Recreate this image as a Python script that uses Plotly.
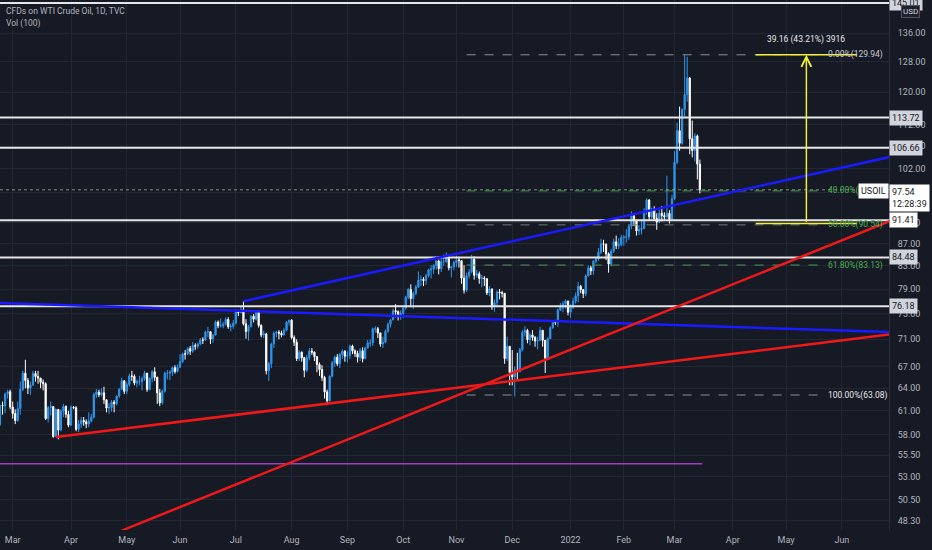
import numpy as np
import pandas as pd
import plotly.graph_objects as go

# daily candles, TVC:USOIL, 22 Feb 2021 .. 15 Mar 2022 (weekdays)
first_open = 59.24
close = [
    61.70, 61.67, 63.22, 63.53, 61.50,  # Feb 21
    60.64, 59.75, 61.28, 63.83, 66.09, 65.05, 64.01, 64.44, 66.02, 65.61, 65.39, 64.80,
    64.60, 60.00, 61.42, 61.55, 57.76, 61.18, 58.56, 60.97, 61.56, 60.55, 59.16,  # Mar
    61.45, 61.40, 58.65, 59.33, 59.77, 59.60, 59.32, 59.70, 60.18, 63.15, 63.46, 63.13,
    63.38, 62.44, 61.35, 61.43, 62.14, 61.91, 62.94, 63.86, 65.01, 63.58,  # Apr
    64.49, 65.69, 65.63, 64.71, 64.90, 64.92, 65.28, 66.08, 63.82, 65.37, 66.27, 65.49,
    63.36, 62.05, 63.58, 66.05, 66.07, 66.21, 66.85, 66.32, 66.90,  # May
    67.72, 68.83, 68.81, 69.62, 69.23, 70.05, 69.96, 70.29, 70.91, 70.88, 72.12, 72.15,
    71.04, 71.64, 73.66, 73.06, 73.08, 73.30, 74.05, 72.91, 72.98, 73.47,  # Jun
    75.23, 75.16, 75.60, 73.37, 72.20, 72.94, 74.56, 74.10, 75.25, 73.13, 71.65, 71.81,
    66.42, 67.42, 70.30, 71.91, 72.07, 71.91, 71.65, 72.39, 73.62, 73.95,  # Jul
    71.26, 70.56, 68.15, 69.09, 68.28, 66.48, 68.29, 69.25, 69.09, 68.44, 67.29, 66.59,
    65.46, 63.50, 62.32, 65.64, 67.54, 68.36, 67.42, 68.74, 69.21, 68.50,  # Aug
    68.59, 69.99, 69.29, 68.90, 68.35, 69.30, 68.14, 69.72, 70.45, 70.46, 72.61, 72.61,
    71.97, 70.29, 70.56, 72.23, 73.30, 73.98, 75.45, 75.29, 74.83, 75.03,  # Sep
    75.88, 77.62, 78.93, 77.43, 78.30, 79.35, 80.52, 80.64, 80.44, 81.31, 82.28, 82.44,
    83.05, 83.87, 82.50, 83.76, 83.76, 84.65, 82.66, 82.81, 83.57,  # Oct
    84.05, 83.91, 80.86, 78.81, 81.27, 81.93, 84.15, 81.34, 81.59, 80.79, 80.88, 80.76,
    78.36, 79.01, 76.10, 76.75, 78.50, 78.39, 78.30, 68.15, 69.95, 66.18,  # Nov
    65.57, 66.50, 66.26, 69.49, 72.05, 72.36, 70.94, 71.67, 71.29, 70.73, 70.87, 72.38,
    70.86, 68.23, 71.12, 72.76, 73.79, 73.60, 75.57, 75.98, 76.56, 76.99, 75.21,  # Dec
    76.08, 76.99, 77.85, 79.46, 78.90, 78.23, 81.22, 82.64, 82.12, 83.82, 84.20, 85.43,
    86.96, 86.90, 85.14, 83.31, 85.60, 87.35, 86.61, 86.82, 88.15,  # Jan 22
    88.20, 88.26, 90.27, 92.31, 91.32, 89.36, 89.66, 89.88, 93.10, 95.46, 92.07, 93.66,
    91.76, 91.07, 92.80, 92.35, 92.10, 92.81, 91.59, 95.72,  # Feb
    103.41, 110.60, 107.67, 115.68, 119.40, 123.70, 108.70, 106.02, 109.33, 103.01, 97.54,  # Mar
]
high = [
    61.80, 62.20, 63.40, 63.80, 63.80,
    62.20, 61.20, 62.20, 64.90, 66.40, 67.98, 65.40, 64.90, 66.40, 66.40, 66.40, 65.40,
    65.20, 64.80, 61.60, 62.20, 61.60, 61.30, 61.20, 61.20, 61.90, 61.70, 61.00,
    61.70, 61.60, 61.60, 59.80, 60.20, 60.20, 59.90, 60.80, 60.60, 63.40, 63.90, 63.80,
    64.00, 64.20, 62.50, 62.00, 62.40, 62.40, 63.00, 64.00, 65.45, 65.10,
    64.80, 66.00, 66.40, 65.90, 65.20, 65.70, 65.60, 66.40, 66.10, 65.50, 66.50, 66.90,
    65.60, 63.90, 63.80, 66.30, 66.50, 66.50, 67.00, 67.20, 67.30,
    68.80, 69.00, 69.40, 69.80, 70.00, 70.60, 70.40, 70.50, 71.20, 71.30, 72.30, 72.90,
    72.20, 71.80, 73.90, 73.90, 74.20, 73.70, 74.40, 74.40, 73.40, 74.00,
    75.70, 75.60, 76.20, 76.98, 74.10, 73.20, 74.70, 74.90, 75.50, 75.50, 73.30, 72.30,
    72.00, 67.70, 70.50, 72.20, 72.30, 72.40, 72.30, 72.70, 73.80, 74.00,
    74.10, 71.60, 71.00, 69.40, 69.20, 68.40, 68.70, 69.70, 69.70, 69.20, 68.50, 67.60,
    67.20, 65.70, 63.80, 65.80, 67.80, 68.60, 68.80, 69.00, 69.50, 69.40,
    69.20, 70.20, 70.20, 69.50, 69.30, 69.70, 69.80, 69.90, 70.90, 71.00, 72.80, 73.00,
    72.90, 72.00, 71.40, 72.50, 73.60, 74.10, 75.80, 76.50, 75.50, 75.50,
    76.00, 77.90, 79.20, 79.80, 78.60, 79.70, 82.00, 81.30, 81.00, 81.60, 82.50, 83.10,
    83.30, 84.00, 84.10, 84.20, 85.00, 85.40, 84.80, 83.00, 83.90,
    84.80, 84.40, 84.00, 83.10, 81.80, 82.40, 84.97, 84.70, 82.30, 82.00, 81.40, 81.20,
    80.80, 79.50, 79.10, 77.30, 78.80, 79.00, 78.70, 78.30, 71.40, 70.00,
    69.40, 67.00, 69.00, 69.70, 72.40, 73.00, 72.60, 72.00, 72.40, 71.50, 71.40, 72.90,
    72.30, 70.60, 71.30, 73.00, 73.90, 74.00, 75.80, 76.70, 77.00, 77.30, 77.10,
    76.50, 77.60, 78.40, 80.20, 79.70, 79.00, 81.50, 83.10, 83.00, 84.00, 84.60, 86.20,
    87.90, 87.70, 87.00, 85.40, 86.00, 87.90, 88.50, 88.00, 88.70,
    88.60, 89.70, 90.70, 93.20, 92.70, 91.60, 90.50, 91.40, 93.80, 95.80, 95.60, 93.90,
    94.20, 92.80, 93.50, 94.20, 93.00, 100.50, 93.40, 96.50,
    105.90, 112.50, 116.40, 116.00, 129.94, 129.40, 123.90, 113.00, 110.00, 109.70, 104.00,
]
low = [
    59.10, 60.50, 60.70, 62.60, 61.20,
    60.00, 59.30, 59.60, 60.50, 63.60, 64.00, 63.20, 63.10, 64.30, 64.90, 64.60, 64.00,
    63.70, 59.80, 59.50, 60.40, 57.60, 57.70, 57.40, 58.40, 60.20, 60.10, 58.90,
    59.10, 61.20, 58.40, 58.30, 58.80, 59.10, 58.80, 58.90, 59.50, 60.00, 62.70, 62.80,
    62.90, 61.90, 60.80, 60.60, 60.90, 60.80, 61.70, 62.70, 63.80, 63.20,
    63.20, 64.20, 65.00, 64.40, 64.10, 64.40, 63.70, 65.00, 63.50, 63.70, 64.80, 65.00,
    61.90, 61.60, 61.80, 63.40, 65.20, 65.10, 65.70, 66.00, 66.20,
    66.80, 67.50, 68.00, 68.70, 68.70, 69.00, 69.40, 69.60, 70.10, 70.30, 70.80, 71.30,
    70.30, 70.50, 71.60, 72.70, 72.80, 72.70, 73.10, 72.60, 72.20, 72.60,
    73.30, 74.60, 75.00, 73.10, 71.10, 70.80, 72.80, 73.60, 73.90, 72.80, 71.30, 71.20,
    65.90, 65.00, 66.80, 69.70, 71.30, 71.00, 71.30, 71.60, 72.20, 73.10,
    71.00, 70.00, 67.80, 67.80, 67.70, 65.50, 66.20, 67.90, 68.70, 67.80, 66.20, 65.70,
    65.00, 62.60, 61.74, 62.20, 65.50, 67.00, 67.10, 66.80, 68.10, 67.70,
    67.60, 68.10, 68.80, 68.40, 67.60, 67.80, 67.60, 68.10, 69.60, 69.90, 70.00, 72.00,
    71.20, 69.90, 69.70, 70.40, 72.00, 72.80, 74.00, 74.40, 73.90, 74.00,
    74.30, 75.60, 77.30, 76.00, 75.70, 78.00, 79.20, 79.50, 79.50, 79.70, 81.00, 80.80,
    81.60, 82.30, 81.50, 81.90, 83.00, 83.50, 82.20, 81.00, 82.20,
    82.80, 82.70, 79.90, 78.25, 78.50, 80.80, 81.70, 80.60, 80.90, 79.90, 79.30, 79.50,
    78.00, 77.80, 75.60, 75.30, 76.00, 77.30, 77.60, 67.40, 67.80, 64.40,
    64.40, 62.90, 65.00, 66.60, 69.20, 71.40, 70.40, 70.10, 70.80, 69.90, 69.50, 70.70,
    69.90, 66.10, 68.20, 71.00, 72.60, 73.20, 72.90, 75.40, 75.20, 75.80, 74.70,
    74.30, 75.70, 76.60, 76.80, 78.30, 77.50, 77.80, 81.20, 81.40, 81.40, 83.40, 83.90,
    85.10, 85.50, 84.00, 81.80, 82.90, 85.30, 86.00, 86.00, 86.50,
    86.60, 87.20, 87.70, 89.70, 90.30, 88.50, 88.60, 88.70, 89.70, 92.50, 91.30, 91.60,
    91.30, 89.60, 90.90, 91.20, 91.50, 91.80, 90.80, 91.40,
    95.40, 103.00, 106.00, 107.30, 114.00, 117.60, 105.20, 104.50, 103.60, 99.70, 96.80,
]
dates = pd.bdate_range("2021-02-22", "2022-03-15")
opens = [first_open] + close[:-1]

# horizontal levels drawn on the chart
level_prices = [145.01, 113.72, 106.66, 91.41, 84.48, 76.18]
last_price = 97.54
purple_level = 54.5

# fib retracement (log)
fib_names = ["0.00%", "40.00%", "50.00%", "61.80%", "100.00%"]
fib_prices = [129.94, 97.32, 90.54, 83.13, 63.08]
fib_start, fib_end = "2021-11-05", "2022-05-20"

# price range measure
measure_dates = ["2022-04-14", "2022-05-12", "2022-06-09"]
measure_prices = [90.78, 129.94]
measure_text = "39.16 (43.21%) 3916"

# trend lines: (date0, price0, date1, price1, colour)
trend_lines = [
    ("2021-07-06", 76.98, "2022-06-28", 104.6, "#1a1aff"),
    ("2021-02-22", 76.70, "2022-06-28", 72.10, "#1a1aff"),
    ("2021-03-24", 57.70, "2022-06-28", 71.74, "#f01818"),
    ("2021-04-29", 47.30, "2022-06-28", 91.30, "#f01818"),
]

month_ticks = ["2021-03-01", "2021-04-01", "2021-05-03", "2021-06-01", "2021-07-01",
               "2021-08-02", "2021-09-01", "2021-10-01", "2021-11-01", "2021-12-01",
               "2022-01-03", "2022-02-01", "2022-03-01", "2022-04-01", "2022-05-02",
               "2022-06-01"]
month_labels = ["Mar", "Apr", "May", "Jun", "Jul", "Aug", "Sep", "Oct", "Nov", "Dec",
                "2022", "Feb", "Mar", "Apr", "May", "Jun"]
price_ticks = [48.3, 50.5, 53, 55.5, 58, 61, 64, 67, 71, 75, 79, 83, 87, 91, 97,
               102, 107, 112, 120, 128, 136]

BG = "#161a25"
GRID = "#232733"
TXT = "#b2b5be"
FONT = "Roboto"

fig = go.Figure()
fig.add_trace(go.Candlestick(
    x=dates, open=opens, high=high, low=low, close=close,
    increasing=dict(line=dict(color="#2f96ee", width=1), fillcolor="#2f96ee"),
    decreasing=dict(line=dict(color="#ffffff", width=1), fillcolor="#ffffff"),
    whiskerwidth=0, showlegend=False, hoverinfo="skip",
))

# full-width horizontal levels
for p in level_prices:
    fig.add_shape(type="line", xref="paper", x0=0, x1=1, yref="y", y0=p, y1=p,
                  line=dict(color="#e6e6e6", width=2))
fig.add_shape(type="line", xref="paper", x0=0, x1=1, yref="y", y0=last_price, y1=last_price,
              line=dict(color="rgba(170,200,170,0.7)", width=1, dash="dot"))
fig.add_shape(type="line", xref="x", x0=dates[0], x1="2022-03-16", yref="y",
              y0=purple_level, y1=purple_level, line=dict(color="#a23fc0", width=1.5))

# fib levels
fib_line_cols = ["#8a8d96", "#4e9a58", "#6f7a74", "#4e9a58", "#8a8d96"]
fib_text_cols = ["#c8cad0", "#4caf50", "#4caf50", "#4caf50", "#e8e8e8"]
for name, p, lc, tc in zip(fib_names, fib_prices, fib_line_cols, fib_text_cols):
    fig.add_shape(type="line", xref="x", x0=fib_start, x1=fib_end, yref="y", y0=p, y1=p,
                  line=dict(color=lc, width=1, dash="dash"))
    fig.add_annotation(x=fib_end, y=np.log10(p), xref="x", yref="y", xanchor="left",
                       xshift=4, showarrow=False, text=f"{name}({p:.2f})",
                       font=dict(family=FONT, size=8.5, color=tc))

# trend lines
for d0, p0, d1, p1, col in trend_lines:
    fig.add_shape(type="line", xref="x", yref="y", x0=d0, y0=p0, x1=d1, y1=p1,
                  line=dict(color=col, width=2.5))

# price range measure
for p in measure_prices:
    fig.add_shape(type="line", xref="x", yref="y", x0=measure_dates[0], x1=measure_dates[2],
                  y0=p, y1=p, line=dict(color="#f2ee3a", width=1.5))
fig.add_annotation(x=measure_dates[1], y=np.log10(measure_prices[1]), xref="x", yref="y",
                   ax=measure_dates[1], ay=np.log10(measure_prices[0]), axref="x", ayref="y",
                   showarrow=True, arrowhead=5, arrowsize=1.3, arrowwidth=1.5,
                   arrowcolor="#f2ee3a", text="")
fig.add_annotation(x=measure_dates[1], y=np.log10(measure_prices[1]), xref="x", yref="y",
                   yshift=15, showarrow=False, text=measure_text,
                   font=dict(family=FONT, size=8.5, color="#e8e8e8"))

# labels on the price scale
for p in level_prices:
    fig.add_annotation(x=1, y=np.log10(p), xref="paper", yref="y", xanchor="left",
                       yanchor="middle", showarrow=False, text=f"{p:.2f}",
                       bgcolor="#ffffff" if p == 91.41 else "#d1d4dc", borderpad=2,
                       font=dict(family=FONT, size=9, color="#131722"))
fig.add_annotation(x=1, y=np.log10(last_price), xref="paper", yref="y", xanchor="right",
                   yanchor="middle", yshift=-1, showarrow=False, text="USOIL",
                   bgcolor="#ffffff", borderpad=2,
                   font=dict(family=FONT, size=9, color="#131722"))
fig.add_annotation(x=1, y=np.log10(last_price), xref="paper", yref="y", xanchor="left",
                   yanchor="top", yshift=6, showarrow=False, align="left",
                   text=f"{last_price:.2f}<br>12:28:39", bgcolor="#ffffff", borderpad=2,
                   font=dict(family=FONT, size=9, color="#131722"))
fig.add_annotation(x=1, y=1, xref="paper", yref="paper", xanchor="center", yanchor="middle",
                   xshift=21, yshift=-11, showarrow=False, text="USD",
                   bgcolor="#1e222d", bordercolor="#50535e", borderwidth=1, borderpad=1,
                   font=dict(family=FONT, size=8, color="#d1d4dc"))

# header
fig.add_annotation(x=0, y=1, xref="paper", yref="paper", xanchor="left", yanchor="middle",
                   xshift=4, yshift=-11, showarrow=False,
                   text="CFDs on WTI Crude Oil, 1D, TVC",
                   font=dict(family=FONT, size=8.5, color=TXT))
fig.add_annotation(x=0, y=1, xref="paper", yref="paper", xanchor="left", yanchor="middle",
                   xshift=4, yshift=-23, showarrow=False, text="Vol (100)",
                   font=dict(family=FONT, size=8.5, color=TXT))

fig.update_layout(
    width=932, height=550,
    margin=dict(l=0, r=43, t=0, b=20),
    paper_bgcolor=BG, plot_bgcolor=BG,
    showlegend=False,
    font=dict(family=FONT, color=TXT),
    xaxis=dict(
        type="date", range=["2021-02-22", "2022-06-27 14:00"],
        rangebreaks=[dict(bounds=["sat", "mon"])],
        rangeslider=dict(visible=False),
        tickvals=month_ticks, ticktext=month_labels,
        showgrid=True, gridcolor=GRID, gridwidth=1, zeroline=False, showline=False,
        ticks="", tickfont=dict(family=FONT, size=9, color=TXT), ticklabelstandoff=3,
    ),
    yaxis=dict(
        type="log", range=[1.67537, 2.16426], side="right",
        tickvals=price_ticks, ticktext=[f"{v:.2f}" for v in price_ticks],
        showgrid=True, gridcolor=GRID, gridwidth=1, zeroline=False,
        showline=True, linecolor="#2a2e39", linewidth=1,
        ticks="", tickfont=dict(family=FONT, size=9, color=TXT), ticklabelstandoff=6,
    ),
)

# drop the page's default 8px body margin so the chart fills the window
fig.write_html("out.html", config={"displayModeBar": False},
               post_script="document.body.style.margin='0';"
               "document.body.style.background='#161a25';")
